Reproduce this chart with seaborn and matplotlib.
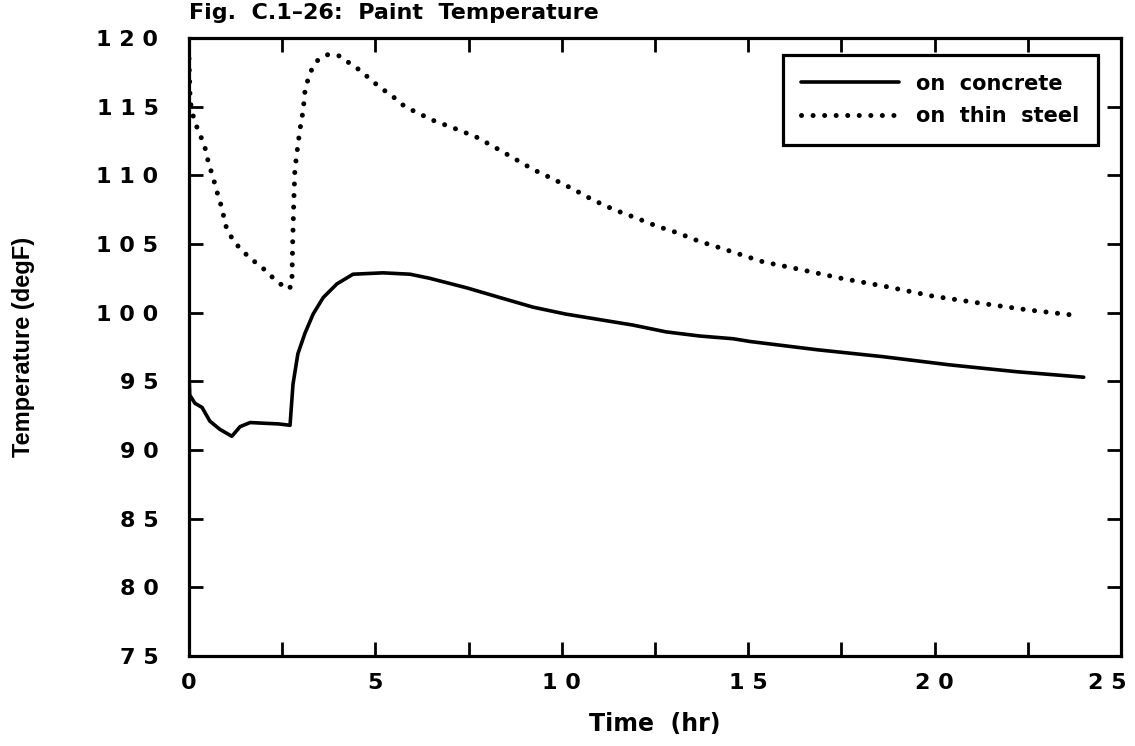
import numpy as np
import pandas as pd
import matplotlib
matplotlib.use("Agg")
import matplotlib.pyplot as plt
import matplotlib.transforms as mtransforms
import seaborn as sns
from matplotlib.ticker import MultipleLocator, FuncFormatter

# Значения
concrete_time = [0.0, 0.02, 0.16, 0.35, 0.56, 0.83, 1.15, 1.37, 1.64, 2.0, 2.4, 2.71,
                 2.79, 2.92, 3.11, 3.33, 3.6, 3.97, 4.4, 5.2, 5.93, 6.46, 7.46, 8.34,
                 9.23, 10.1, 11.0, 11.9, 12.8, 13.7, 14.6, 15.05, 16.85, 18.6, 20.4,
                 22.2, 24.0]
concrete_temp = [95.6, 94.0, 93.4, 93.1, 92.1, 91.5, 91.0, 91.7, 92.0, 91.95, 91.9, 91.8,
                 94.8, 97.0, 98.5, 99.9, 101.1, 102.1, 102.8, 102.9, 102.8, 102.5, 101.8,
                 101.1, 100.4, 99.9, 99.5, 99.1, 98.6, 98.3, 98.1, 97.9, 97.3, 96.8, 96.2,
                 95.7, 95.3]

steel_time = [0.0, 0.03, 0.08, 0.16, 0.24, 0.35, 0.43, 0.54, 0.62, 0.75, 0.83, 0.89,
              0.99, 1.1, 1.21, 1.42, 1.61, 1.82, 2.04, 2.23, 2.45, 2.63, 2.74, 2.76,
              2.78, 2.81, 2.84, 2.92, 2.98, 3.06, 3.11, 3.22, 3.33, 3.46, 3.73, 4.02,
              4.29, 4.51, 4.91, 5.12, 5.34, 5.58, 5.79, 6.55, 7.14, 7.7, 8.23, 8.74,
              9.25, 9.79, 10.3, 10.84, 11.4, 11.99, 12.55, 13.12, 13.68, 14.27, 14.83,
              15.4, 16.3, 17.5, 18.7, 19.96, 21.2, 22.5, 23.8]
steel_temp = [118.5, 115.5, 114.6, 113.9, 113.3, 112.6, 112.0, 110.7, 110.1, 108.8, 108.1,
              107.5, 106.3, 105.7, 105.1, 104.6, 104.0, 103.6, 103.1, 102.6, 102.1, 101.7,
              101.9, 102.2, 105.0, 108.0, 110.4, 112.2, 113.4, 114.7, 116.1, 117.3, 117.9,
              118.4, 118.8, 118.7, 118.2, 117.8, 116.9, 116.4, 116.0, 115.5, 115.0, 114.0,
              113.4, 112.8, 112.0, 111.2, 110.4, 109.7, 109.0, 108.2, 107.5, 106.9, 106.3,
              105.8, 105.2, 104.7, 104.2, 103.7, 103.2, 102.5, 101.9, 101.2, 100.7, 100.2,
              99.8]

series_labels = ['on  concrete', 'on  thin  steel']

sns.set_style('ticks')
plt.rcParams['font.family'] = ['DejaVu Sans']
plt.rcParams['text.color'] = 'black'
plt.rcParams['axes.labelcolor'] = 'black'
plt.rcParams['xtick.color'] = 'black'
plt.rcParams['ytick.color'] = 'black'

fig = plt.figure(figsize=(11.35, 7.46), dpi=100)
ax = fig.add_axes([189 / 1135, 1 - 656 / 746, (1121 - 189) / 1135, (656 - 38) / 746])

concrete = pd.DataFrame({'t': concrete_time, 'T': concrete_temp})
steel = pd.DataFrame({'t': steel_time, 'T': steel_temp})

sns.lineplot(data=concrete, x='t', y='T', ax=ax, color='black', lw=2.6,
             label=series_labels[0], sort=False, estimator=None)
sns.lineplot(data=steel, x='t', y='T', ax=ax, color='black', lw=3.6,
             label=series_labels[1], sort=False, estimator=None,
             linestyle=(0, (0.01, 2.3)), dash_capstyle='round')

ax.set_xlim(0, 25)
ax.set_ylim(75, 120)
ax.xaxis.set_major_locator(MultipleLocator(2.5))
ax.yaxis.set_major_locator(MultipleLocator(5))

def spaced(v, pos):
    # метки только на целых пятёрках, цифры разнесены как в оригинале
    if abs(v - round(v)) > 1e-6 or round(v) % 5:
        return ''
    return ' '.join(str(int(round(v))))

ax.xaxis.set_major_formatter(FuncFormatter(spaced))
ax.yaxis.set_major_formatter(FuncFormatter(spaced))

ax.tick_params(direction='in', length=10, width=2, top=True, right=True,
               labelsize=16)
ax.tick_params(axis='x', pad=12)
ax.tick_params(axis='y', pad=22)
for lab in ax.get_xticklabels() + ax.get_yticklabels():
    lab.set_fontweight('bold')

# последняя метка "25" в оригинале сдвинута внутрь
fig.canvas.draw()
xlabs = ax.get_xticklabels()
last = [l for l in xlabs if l.get_text()][-1]
last.set_transform(last.get_transform() +
                   mtransforms.ScaledTranslation(-14 / 100, 0, fig.dpi_scale_trans))

for s in ax.spines.values():
    s.set_linewidth(2.3)
    s.set_color('black')

ax.set_xlabel('Time  (hr)', fontsize=17, fontweight='bold', labelpad=14)
ax.set_ylabel('Temperature (degF)', fontsize=17, fontweight='bold',
              family=['Liberation Sans'], labelpad=44)
ax.set_title('Fig.  C.1–26:  Paint  Temperature', loc='left', fontsize=16,
             fontweight='bold', pad=14)

leg = ax.legend(loc='upper right', bbox_to_anchor=(1098 / 1135, 1 - 55 / 746),
                bbox_transform=fig.transFigure, borderaxespad=0, fancybox=False,
                handlelength=4.7, labelspacing=0.6, borderpad=0.9,
                prop={'size': 15, 'weight': 'bold'}, framealpha=1)
leg.get_frame().set_edgecolor('black')
leg.get_frame().set_linewidth(2.3)

fig.savefig('out.png', dpi=100)
